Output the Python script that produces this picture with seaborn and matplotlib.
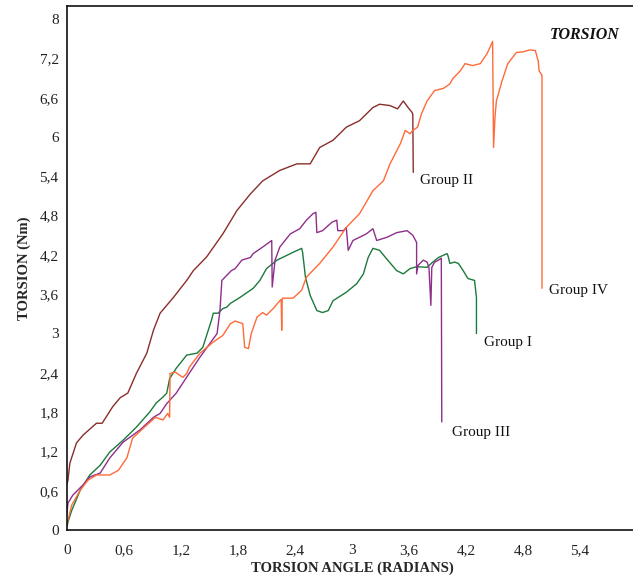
import matplotlib
matplotlib.use("Agg")
import matplotlib.pyplot as plt
import seaborn as sns
import pandas as pd

# Torsion test curves: angle (rad) vs. torque (Nm)
g1_x = [0.0, 0.01, 0.05, 0.14, 0.24, 0.35, 0.45, 0.59, 0.73, 0.87, 0.94, 1.01, 1.05, 1.08, 1.15,
        1.26, 1.37, 1.43, 1.52, 1.54, 1.59, 1.64, 1.68, 1.72, 1.82, 1.96, 2.03, 2.10, 2.21, 2.31,
        2.38, 2.47, 2.48, 2.51, 2.56, 2.63, 2.69, 2.75, 2.80, 2.94, 3.05, 3.12, 3.17, 3.22, 3.29,
        3.37, 3.47, 3.54, 3.61, 3.68, 3.79, 3.85, 3.91, 4.00, 4.01, 4.03, 4.08, 4.12, 4.17, 4.22,
        4.29, 4.31, 4.31]
g1_y = [0.05, 0.12, 0.30, 0.61, 0.84, 0.99, 1.19, 1.37, 1.57, 1.80, 1.94, 2.03, 2.09, 2.31, 2.47,
        2.67, 2.70, 2.79, 3.20, 3.31, 3.31, 3.38, 3.40, 3.46, 3.55, 3.69, 3.81, 3.99, 4.12, 4.19,
        4.24, 4.30, 4.24, 3.86, 3.58, 3.35, 3.32, 3.35, 3.50, 3.63, 3.76, 3.91, 4.16, 4.30, 4.27,
        4.13, 3.96, 3.91, 3.99, 4.02, 4.01, 4.09, 4.16, 4.22, 4.19, 4.07, 4.09, 4.07, 3.96, 3.84,
        3.81, 3.55, 3.00]

g2_x = [0.0, 0.01, 0.03, 0.10, 0.17, 0.31, 0.37, 0.48, 0.56, 0.64, 0.73, 0.84, 0.91, 0.98, 1.12,
        1.26, 1.33, 1.47, 1.64, 1.79, 1.93, 2.06, 2.24, 2.42, 2.56, 2.66, 2.80, 2.94, 3.08, 3.22,
        3.29, 3.40, 3.48, 3.54, 3.59, 3.63, 3.64, 3.645]
g2_y = [0.70, 0.76, 1.02, 1.33, 1.45, 1.63, 1.63, 1.88, 2.02, 2.09, 2.39, 2.70, 3.05, 3.31, 3.55,
        3.81, 3.96, 4.17, 4.52, 4.88, 5.13, 5.33, 5.49, 5.59, 5.59, 5.84, 5.95, 6.15, 6.25, 6.45,
        6.50, 6.48, 6.43, 6.55, 6.45, 6.38, 6.35, 5.46]

g3_x = [0.0, 0.01, 0.06, 0.17, 0.24, 0.35, 0.45, 0.59, 0.77, 0.91, 0.98, 1.05, 1.15, 1.24, 1.40,
        1.58, 1.61, 1.63, 1.73, 1.77, 1.84, 1.93, 1.96, 2.06, 2.155, 2.16, 2.19, 2.24, 2.35, 2.45,
        2.52, 2.59, 2.62, 2.63, 2.69, 2.79, 2.84, 2.85, 2.91, 2.94, 2.96, 3.01, 3.15, 3.22, 3.26,
        3.37, 3.47, 3.58, 3.64, 3.68, 3.68, 3.695, 3.75, 3.79, 3.81, 3.83, 3.84, 3.87, 3.91, 3.94,
        3.945]
g3_y = [0.25, 0.41, 0.53, 0.69, 0.81, 0.87, 1.10, 1.34, 1.53, 1.72, 1.78, 1.93, 2.09, 2.29, 2.64,
        3.00, 3.35, 3.81, 3.96, 3.99, 4.12, 4.16, 4.22, 4.32, 4.42, 3.71, 4.12, 4.32, 4.52, 4.60,
        4.73, 4.83, 4.85, 4.54, 4.57, 4.70, 4.73, 4.57, 4.57, 4.62, 4.27, 4.42, 4.52, 4.60, 4.42,
        4.47, 4.54, 4.57, 4.50, 4.39, 3.91, 4.04, 4.12, 4.09, 4.01, 3.43, 4.01, 4.09, 4.12, 4.15,
        1.65]

g4_x = [0.0, 0.01, 0.05, 0.14, 0.22, 0.31, 0.45, 0.54, 0.63, 0.69, 0.80, 0.93, 1.01, 1.06, 1.08,
        1.085, 1.14, 1.22, 1.26, 1.29, 1.40, 1.54, 1.64, 1.72, 1.77, 1.85, 1.87, 1.91, 1.94, 2.00,
        2.06, 2.10, 2.17, 2.24, 2.255, 2.26, 2.265, 2.27, 2.38, 2.47, 2.52, 2.66, 2.80, 2.94, 3.08,
        3.22, 3.33, 3.40, 3.51, 3.56, 3.61, 3.64, 3.69, 3.73, 3.79, 3.87, 3.96, 4.03, 4.06, 4.14,
        4.19, 4.27, 4.35, 4.42, 4.45, 4.48, 4.49, 4.505, 4.52, 4.58, 4.64, 4.73, 4.80, 4.87, 4.93,
        4.96, 4.97, 5.00, 5.00]
g4_y = [0.10, 0.15, 0.38, 0.61, 0.76, 0.84, 0.84, 0.91, 1.10, 1.40, 1.55, 1.72, 1.68, 1.78, 1.72,
        2.39, 2.41, 2.33, 2.39, 2.49, 2.70, 2.87, 2.97, 3.15, 3.19, 3.15, 2.79, 2.77, 3.00, 3.25,
        3.32, 3.28, 3.38, 3.50, 3.52, 3.05, 3.52, 3.54, 3.54, 3.66, 3.86, 4.07, 4.32, 4.62, 4.83,
        5.18, 5.33, 5.59, 5.90, 6.10, 6.05, 6.10, 6.15, 6.35, 6.55, 6.71, 6.74, 6.81, 6.89, 7.01,
        7.12, 7.09, 7.12, 7.27, 7.36, 7.46, 5.84, 6.30, 6.55, 6.86, 7.12, 7.29, 7.30, 7.33, 7.32,
        7.16, 7.01, 6.94, 3.69]

groups = ["Group I", "Group II", "Group III", "Group IV"]
colors = ["#1C7A3C", "#8A2E2A", "#8E2F8C", "#FF6A38"]

x_ticks = [0, 0.6, 1.2, 1.8, 2.4, 3.0, 3.6, 4.2, 4.8, 5.4, 6.0]
x_tick_labels = ["0", "0,6", "1,2", "1,8", "2,4", "3", "3,6", "4,2", "4,8", "5,4", "6"]
y_ticks = [0, 0.6, 1.2, 1.8, 2.4, 3.0, 3.6, 4.2, 4.8, 5.4, 6.0, 6.6, 7.2, 7.8]
y_tick_labels = ["0", "0,6", "1,2", "1,8", "2,4", "3", "3,6", "4,2", "4,8", "5,4", "6", "6,6",
                 "7,2", "8"]

# curve-end annotations: (text, x, y)
labels = [("Group II", 3.72, 5.34), ("Group IV", 5.07, 3.66),
          ("Group I", 4.39, 2.87), ("Group III", 4.05, 1.49)]

series = {"Group I": (g1_x, g1_y), "Group II": (g2_x, g2_y),
          "Group III": (g3_x, g3_y), "Group IV": (g4_x, g4_y)}
frames = []
for name in groups:
    xs, ys = series[name]
    frames.append(pd.DataFrame({"angle": xs, "torque": ys, "group": name,
                                "order": range(len(xs))}))
df = pd.concat(frames, ignore_index=True)

sns.set_theme(style="white")
plt.rcParams["font.family"] = ["Liberation Serif", "DejaVu Serif"]

fig = plt.figure(figsize=(6.33, 5.83), dpi=100)
ax = fig.add_axes([67 / 633, 53 / 583, 570 / 633, 524 / 583])

for name, col in zip(groups, colors):
    sub = df[df["group"] == name]
    sns.lineplot(data=sub, x="angle", y="torque", sort=False, estimator=None,
                 color=col, lw=1.0, ax=ax, legend=False)

ax.set_xlim(0, 6)
ax.set_ylim(0, 8)
ax.set_xticks(x_ticks)
ax.set_xticklabels(x_tick_labels)
ax.set_yticks(y_ticks)
ax.set_yticklabels(y_tick_labels)
ax.tick_params(axis="both", direction="in", length=7, width=1.2, color="#333333",
               labelsize=11, labelcolor="#222222", pad=6)
ax.tick_params(axis="x", pad=10)

for side in ["left", "bottom", "top"]:
    ax.spines[side].set_visible(True)
    ax.spines[side].set_color("#111111")
    ax.spines[side].set_linewidth(1.2)
ax.spines["right"].set_visible(False)

ax.set_xlabel("TORSION ANGLE (RADIANS)", fontsize=10.5, fontweight="bold", labelpad=3)
ax.set_ylabel("TORSION (Nm)", fontsize=10.5, fontweight="bold", labelpad=6)

for text, tx, ty in labels:
    ax.text(tx, ty, text, fontsize=11, va="center", ha="left", color="#111111")

ax.text(5.45, 7.56, "TORSION", fontsize=11.5, fontweight="bold", fontstyle="italic",
        ha="center", va="center", color="#111111")

fig.savefig("out.png", dpi=100)
